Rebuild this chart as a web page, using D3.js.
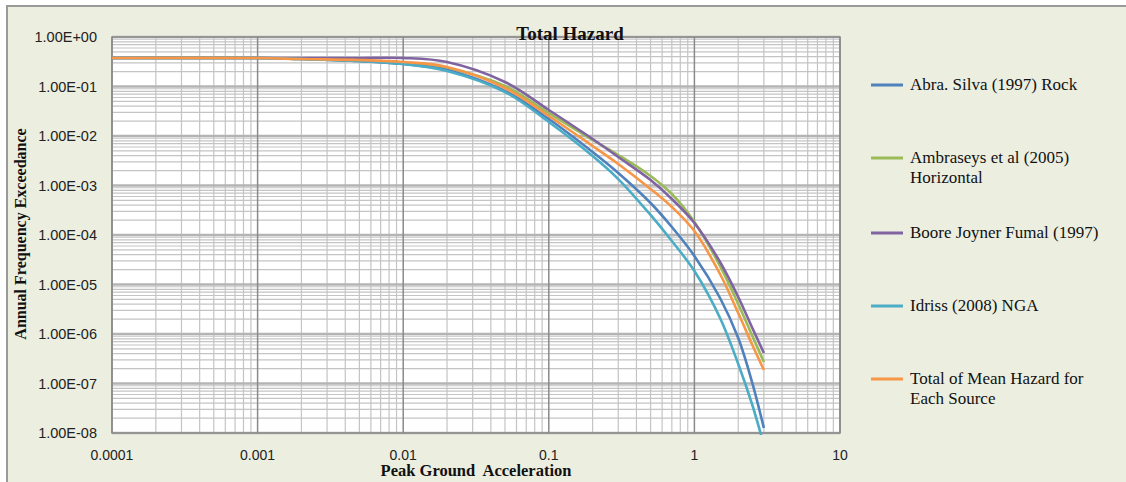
<!DOCTYPE html>
<html>
<head>
<meta charset="utf-8">
<script src="https://cdn.jsdelivr.net/npm/d3@7"></script>
<style>
  body { margin:0; background:#fff; }
  svg text { font-family: "Liberation Serif", "DejaVu Serif", serif; }
</style>
</head>
<body>
<div class="canvas"></div>
<script>
// data
var pga = [0.0001, 0.001, 0.002, 0.005, 0.01, 0.02, 0.05, 0.1, 0.2, 0.3, 0.5, 0.7, 1, 1.5, 2, 2.5, 3];

var abraSilva = [0.376,0.376,0.359,0.327,0.285,0.215,0.0811,0.02204,4.75e-3,1.79e-3,4.43e-4,1.45e-4,3.77e-5,5.34e-6,8.3e-7,1.02e-7,1.26e-8];
var ambraseys = [0.376,0.376,0.359,0.327,0.298,0.236,0.1023,0.0291,8.3e-3,4.13e-3,1.56e-3,6.73e-4,1.83e-4,2.36e-5,4.04e-6,9.12e-7,2.72e-7];
var booreJoyner = [0.376,0.376,0.376,0.376,0.376,0.3125,0.1233,0.0335,8.7e-3,3.77e-3,1.29e-3,5.34e-4,1.75e-4,2.85e-5,5.59e-6,1.32e-6,4.13e-7];
var idriss = [0.376,0.376,0.359,0.327,0.285,0.206,0.0774,0.01918,3.94e-3,1.35e-3,2.54e-4,7.56e-5,1.87e-5,2.1e-6,2.48e-7,3.68e-8,5.7e-9];
var totalMean = [0.376,0.376,0.359,0.343,0.3125,0.248,0.0933,0.02535,6.28e-3,2.72e-3,8.5e-4,3.68e-4,1.2e-4,1.63e-5,2.65e-6,6.0e-7,1.87e-7];

var seriesNames = [
  ['Abra. Silva (1997) Rock'],
  ['Ambraseys et al (2005)', 'Horizontal'],
  ['Boore Joyner Fumal (1997)'],
  ['Idriss (2008) NGA'],
  ['Total of Mean Hazard for', 'Each Source']
];
var seriesValues = [abraSilva, ambraseys, booreJoyner, idriss, totalMean];
var seriesColors = ['#4f81bd', '#9bbb59', '#8064a2', '#4bacc6', '#f79646'];
// draw order (orange on top like in the picture)
var drawOrder = [1, 2, 0, 3, 4];

var xTicks = [0.0001, 0.001, 0.01, 0.1, 1, 10];
var xTickLabels = ['0.0001', '0.001', '0.01', '0.1', '1', '10'];
var yTicks = [1, 1e-1, 1e-2, 1e-3, 1e-4, 1e-5, 1e-6, 1e-7, 1e-8];
var yTickLabels = ['1.00E+00','1.00E-01','1.00E-02','1.00E-03','1.00E-04','1.00E-05','1.00E-06','1.00E-07','1.00E-08'];

//Set up the drawing environment here
var W = 1126, H = 482;
var plotBox = {l:112, t:37, r:840, b:433};

var svg = d3.select('.canvas')
  .append('svg')
  .attr('width', W)
  .attr('height', H);

// chart area background + frame
svg.append('rect').attr('x',0).attr('y',0).attr('width',W).attr('height',H).attr('fill','#fff');
svg.append('rect')
  .attr('x',7).attr('y',6).attr('width',W+10).attr('height',H+10)
  .attr('fill','#eceee0')
  .attr('stroke','#9a9a9a').attr('stroke-width',2);

var x = d3.scaleLog().domain([0.0001, 10]).range([plotBox.l, plotBox.r]);
var y = d3.scaleLog().domain([1e-8, 1]).range([plotBox.b, plotBox.t]);

var plot = svg.append('g').attr('class','plot');

plot.append('rect')
  .attr('x', plotBox.l).attr('y', plotBox.t)
  .attr('width', plotBox.r-plotBox.l).attr('height', plotBox.b-plotBox.t)
  .attr('fill','#fff');

// minor + major grid
var xMinor = [], yMinor = [];
for (var e = -4; e < 1; e++) {
  for (var k = 2; k <= 9; k++) xMinor.push(k*Math.pow(10,e));
}
for (var e2 = -8; e2 < 0; e2++) {
  for (var k2 = 2; k2 <= 9; k2++) yMinor.push(k2*Math.pow(10,e2));
}

plot.selectAll('.hminor').data(yMinor).enter().append('line')
  .attr('class','hminor')
  .attr('x1', plotBox.l).attr('x2', plotBox.r)
  .attr('y1', function(d){ return y(d); }).attr('y2', function(d){ return y(d); })
  .attr('stroke','#c4c4c4').attr('stroke-width',1.2);

plot.selectAll('.vminor').data(xMinor).enter().append('line')
  .attr('class','vminor')
  .attr('y1', plotBox.t).attr('y2', plotBox.b)
  .attr('x1', function(d){ return x(d); }).attr('x2', function(d){ return x(d); })
  .attr('stroke','#c4c4c4').attr('stroke-width',1.2);

plot.selectAll('.hmajor').data(yTicks).enter().append('line')
  .attr('class','hmajor')
  .attr('x1', plotBox.l).attr('x2', plotBox.r)
  .attr('y1', function(d){ return y(d); }).attr('y2', function(d){ return y(d); })
  .attr('stroke','#b4b4b4').attr('stroke-width',2.5);

plot.selectAll('.vmajor').data(xTicks).enter().append('line')
  .attr('class','vmajor')
  .attr('y1', plotBox.t).attr('y2', plotBox.b)
  .attr('x1', function(d){ return x(d); }).attr('x2', function(d){ return x(d); })
  .attr('stroke','#8a8a8a').attr('stroke-width',1.5);

plot.append('rect')
  .attr('x', plotBox.l).attr('y', plotBox.t)
  .attr('width', plotBox.r-plotBox.l).attr('height', plotBox.b-plotBox.t)
  .attr('fill','none').attr('stroke','#8a8a8a').attr('stroke-width',1.5);

// clip so the lowest curve stops at the axis
svg.append('clipPath').attr('id','clip')
  .append('rect')
  .attr('x', plotBox.l).attr('y', plotBox.t)
  .attr('width', plotBox.r-plotBox.l).attr('height', plotBox.b-plotBox.t+2);

var line = d3.line()
  .x(function(d){ return x(d[0]); })
  .y(function(d){ return y(d[1]); })
  .curve(d3.curveCatmullRom.alpha(0.5));

var curves = plot.append('g').attr('clip-path','url(#clip)');
drawOrder.forEach(function(i){
  var pts = pga.map(function(p, j){ return [p, seriesValues[i][j]]; });
  curves.append('path')
    .attr('d', line(pts))
    .attr('fill','none')
    .attr('stroke', seriesColors[i])
    .attr('stroke-width', 2.6)
    .attr('stroke-linejoin','round');
});

// axes labels
svg.selectAll('.xlab').data(xTicks).enter().append('text')
  .attr('class','xlab')
  .attr('x', function(d){ return x(d); })
  .attr('y', 460)
  .attr('text-anchor','middle')
  .style('font-family','"Liberation Sans", Arial, sans-serif')
  .style('font-size','14px')
  .attr('fill','#222')
  .text(function(d,i){ return xTickLabels[i]; });

svg.selectAll('.ylab').data(yTicks).enter().append('text')
  .attr('class','ylab')
  .attr('x', 97)
  .attr('y', function(d){ return y(d)+5; })
  .attr('text-anchor','end')
  .style('font-family','"Liberation Sans", Arial, sans-serif')
  .style('font-size','14.5px')
  .attr('fill','#222')
  .text(function(d,i){ return yTickLabels[i]; });

// titles
svg.append('text')
  .attr('x', 570).attr('y', 40)
  .attr('text-anchor','middle')
  .style('font-size','19px').style('font-weight','bold')
  .attr('fill','#111')
  .text('Total Hazard');

svg.append('text')
  .attr('x', 476).attr('y', 476)
  .attr('text-anchor','middle')
  .style('font-size','16.5px').style('font-weight','bold')
  .attr('fill','#111')
  .attr('xml:space','preserve')
  .text('Peak Ground  Acceleration');

svg.append('text')
  .attr('transform','translate(26,234) rotate(-90)')
  .attr('text-anchor','middle')
  .style('font-size','16px').style('font-weight','bold')
  .attr('fill','#111')
  .text('Annual Frequency Exceedance');

// legend
var legendY = [85, 158, 233, 306, 379];
var legend = svg.append('g').attr('class','legend');
seriesNames.forEach(function(name, i){
  legend.append('line')
    .attr('x1', 871).attr('x2', 903)
    .attr('y1', legendY[i]).attr('y2', legendY[i])
    .attr('stroke', seriesColors[i]).attr('stroke-width', 3);
  var t = legend.append('text')
    .attr('x', 910).attr('y', legendY[i]+5)
    .style('font-size','17px')
    .attr('fill','#111');
  name.forEach(function(part, j){
    t.append('tspan').attr('x', 910).attr('dy', j == 0 ? 0 : 20).text(part);
  });
});
</script>
</body>
</html>
